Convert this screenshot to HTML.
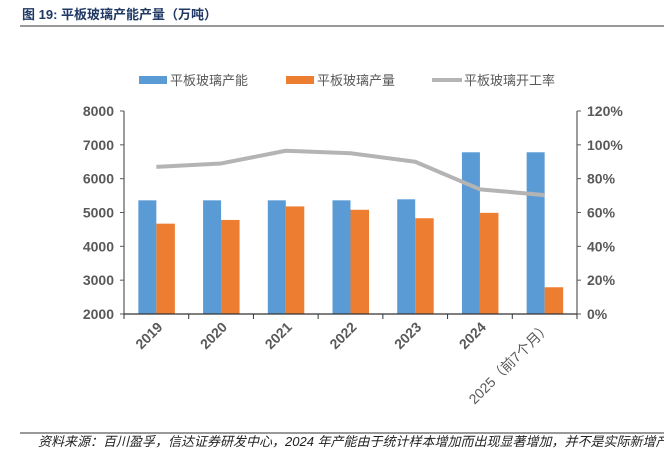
<!DOCTYPE html>
<html><head><meta charset="utf-8"><style>
body{margin:0;background:#fff;width:664px;height:450px;overflow:hidden;font-family:"Liberation Sans","Noto Sans CJK SC",sans-serif}
</style></head><body>
<svg width="664" height="450" font-family="Liberation Sans, Noto Sans CJK SC, sans-serif">
<text x="22" y="19" font-size="13" font-weight="bold" fill="#1f3864">图 19:  平板玻璃产能产量（万吨）</text>
<line x1="20" y1="26" x2="664" y2="26" stroke="#333" stroke-width="1"/>
<g font-size="13" fill="#595959">
<rect x="139" y="76" width="28" height="8" fill="#5b9bd5"/>
<text x="170" y="85">平板玻璃产能</text>
<rect x="286" y="76" width="28" height="8" fill="#ed7d31"/>
<text x="317" y="85">平板玻璃产量</text>
<line x1="432" y1="80" x2="462" y2="80" stroke="#b4b4b4" stroke-width="4"/>
<text x="464" y="85">平板玻璃开工率</text>
</g>
<g id="plot"></g>
<line x1="20" y1="433" x2="664" y2="433" stroke="#333" stroke-width="1"/>
<text x="38" y="446" font-size="13" font-style="italic" fill="#222">资料来源：百川盈孚，信达证券研发中心，2024 年产能由于统计样本增加而出现显著增加，并不是实际新增产</text>
</svg>
<script>
const categories=["2019","2020","2021","2022","2023","2024","2025（前7个月）"];
const capacity=[5360,5360,5360,5360,5390,6780,6780];
const output=[4670,4780,5180,5080,4830,4990,2790];
const rate=[87,89,96.5,95,90,73.7,70.3];
const leftTicks=[2000,3000,4000,5000,6000,7000,8000];
const rightTicks=[0,20,40,60,80,100,120];
const NS="http://www.w3.org/2000/svg";
const g=document.getElementById('plot');
const X0=124,X1=577,Y0=314,Y1=111;
const cw=(X1-X0)/categories.length;
const yL=v=>Y0-(v-2000)/6000*(Y0-Y1);
const yR=v=>Y0-v/120*(Y0-Y1);
const xC=i=>X0+cw*(i+0.5);
function mk(t,a){const e=document.createElementNS(NS,t);for(const k in a)e.setAttribute(k,a[k]);g.appendChild(e);return e;}
capacity.forEach((v,i)=>{const e=mk('rect',{x:xC(i)-18,y:yL(v),width:18,height:Y0-yL(v),fill:'#5b9bd5'});

});
output.forEach((v,i)=>{const e=mk('rect',{x:xC(i),y:yL(v),width:18.5,height:Y0-yL(v),fill:'#ed7d31'});

});
const ln=mk('polyline',{points:rate.map((v,i)=>xC(i)+','+yR(v)).join(' '),fill:'none',stroke:'#b4b4b4','stroke-width':4,'stroke-linejoin':'round'});


const axL=mk('line',{x1:X0,y1:Y1,x2:X0,y2:Y0,stroke:'#595959','stroke-width':1.2});


const axR=mk('line',{x1:X1,y1:Y1,x2:X1,y2:Y0,stroke:'#595959','stroke-width':1.2});


const axX=mk('line',{x1:X0,y1:Y0,x2:X1,y2:Y0,stroke:'#333','stroke-width':1.2});


leftTicks.forEach(v=>{mk('line',{x1:X0-4,y1:yL(v),x2:X0,y2:yL(v),stroke:'#595959'});
const t=mk('text',{x:X0-10,y:yL(v)+5,'text-anchor':'end','font-size':14,'font-weight':'bold',fill:'#595959'});t.textContent=v;

});
rightTicks.forEach(v=>{mk('line',{x1:X1,y1:yR(v),x2:X1+4,y2:yR(v),stroke:'#595959'});
const t=mk('text',{x:X1+10,y:yR(v)+5,'font-size':14,'font-weight':'bold',fill:'#595959'});t.textContent=v+'%';

});
for(let i=0;i<=categories.length;i++)mk('line',{x1:X0+cw*i,y1:Y0,x2:X0+cw*i,y2:Y0+5,stroke:'#333'});
categories.forEach((c,i)=>{const x=xC(i)+7,y=Y0+14;
const t=mk('text',{x:x,y:y,'text-anchor':'end','font-size':14,'font-weight':i<6?'bold':'normal',fill:'#595959',transform:`rotate(-45 ${x} ${y})`});t.textContent=c;

});
</script>
</body></html>
